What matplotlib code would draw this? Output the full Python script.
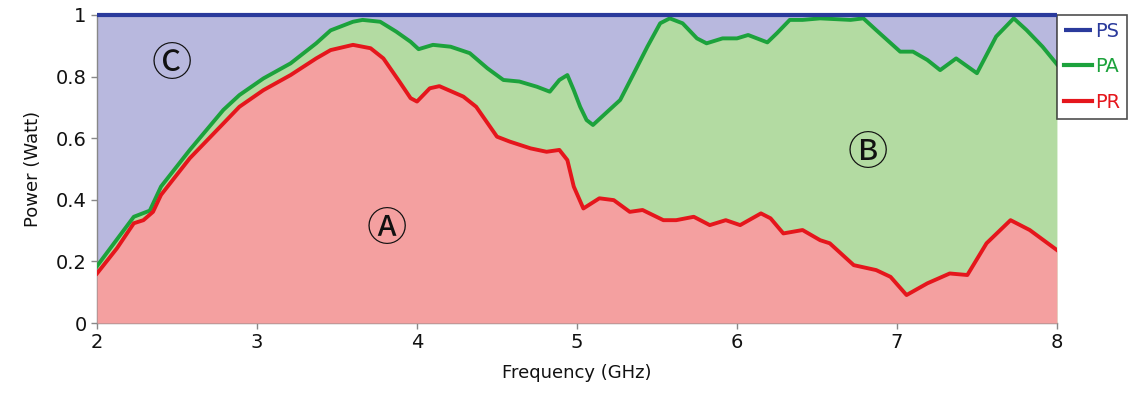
import matplotlib
matplotlib.use("Agg")
import matplotlib.pyplot as plt
from matplotlib.ticker import FixedLocator

# Frequency (GHz) and reflected power PR (W)
pr_freq = [2.00, 2.125, 2.23, 2.29, 2.35, 2.40, 2.58, 2.79, 2.89, 3.04, 3.21, 3.37,
           3.46, 3.60, 3.71, 3.79, 3.89, 3.96, 4.00, 4.08, 4.14, 4.29, 4.37, 4.50,
           4.58, 4.71, 4.81, 4.89, 4.94, 4.98, 5.04, 5.14, 5.23, 5.33, 5.41, 5.54,
           5.62, 5.73, 5.83, 5.93, 6.02, 6.15, 6.21, 6.29, 6.41, 6.52, 6.58, 6.73,
           6.87, 6.96, 7.06, 7.19, 7.33, 7.44, 7.56, 7.71, 7.83, 8.00]
pr_power = [0.161, 0.243, 0.324, 0.334, 0.361, 0.416, 0.535, 0.648, 0.702, 0.756, 0.805, 0.859,
            0.886, 0.903, 0.892, 0.859, 0.784, 0.730, 0.719, 0.762, 0.769, 0.735, 0.702, 0.605,
            0.589, 0.567, 0.556, 0.562, 0.529, 0.443, 0.372, 0.405, 0.399, 0.361, 0.367, 0.334,
            0.334, 0.345, 0.318, 0.334, 0.318, 0.356, 0.340, 0.291, 0.302, 0.269, 0.259, 0.188,
            0.172, 0.150, 0.091, 0.129, 0.161, 0.156, 0.259, 0.334, 0.302, 0.237]

# Frequency (GHz) and absorbed power PA (W)
pa_freq = [2.00, 2.23, 2.33, 2.40, 2.58, 2.79, 2.89, 3.04, 3.21, 3.37, 3.46, 3.60,
           3.66, 3.77, 3.87, 3.96, 4.01, 4.10, 4.21, 4.33, 4.44, 4.54, 4.64, 4.75,
           4.83, 4.89, 4.94, 4.98, 5.02, 5.06, 5.10, 5.19, 5.27, 5.35, 5.44, 5.52,
           5.58, 5.66, 5.75, 5.81, 5.91, 6.00, 6.07, 6.19, 6.25, 6.33, 6.41, 6.52,
           6.71, 6.79, 6.87, 7.02, 7.10, 7.19, 7.27, 7.37, 7.50, 7.62, 7.73, 7.81,
           7.91, 8.00]
pa_power = [0.185, 0.345, 0.365, 0.443, 0.562, 0.692, 0.740, 0.794, 0.843, 0.908, 0.950, 0.978,
            0.984, 0.978, 0.946, 0.913, 0.889, 0.903, 0.897, 0.876, 0.827, 0.789, 0.784, 0.767,
            0.751, 0.789, 0.805, 0.756, 0.702, 0.659, 0.643, 0.686, 0.724, 0.805, 0.897, 0.973,
            0.989, 0.973, 0.924, 0.908, 0.924, 0.924, 0.935, 0.911, 0.941, 0.984, 0.984, 0.989,
            0.984, 0.989, 0.951, 0.881, 0.881, 0.854, 0.821, 0.859, 0.811, 0.930, 0.989, 0.951,
            0.897, 0.840]

# Source power PS (W)
ps_freq = [2.0, 8.0]
ps_power = [1.0, 1.0]

x_ticks = [2, 3, 4, 5, 6, 7, 8]
y_ticks = [0, 0.2, 0.4, 0.6, 0.8, 1.0]
y_tick_labels = ["0", "0.2", "0.4", "0.6", "0.8", "1"]

region_labels = ["\u24b6", "\u24b7", "\u24b8"]
region_pos = [(3.81, 0.305), (6.82, 0.55), (2.47, 0.84)]

c_ps, c_pa, c_pr = "#2a3a9c", "#1ca23c", "#e5161c"
f_ps, f_pa, f_pr = "#b8b8de", "#b3dba2", "#f4a0a0"

fig = plt.figure(figsize=(11.28, 3.94), dpi=100)
ax = fig.add_axes([0.086, 0.180, 0.851, 0.782])

ax.fill_between(ps_freq, 0, ps_power, color=f_ps, lw=0, zorder=1)
ax.fill_between(pa_freq, 0, pa_power, color=f_pa, lw=0, zorder=2)
ax.fill_between(pr_freq, 0, pr_power, color=f_pr, lw=0, zorder=3)

ax.plot(ps_freq, ps_power, color=c_ps, lw=3.0, label="PS", zorder=6, clip_on=False,
        solid_capstyle="butt")
ax.plot(pa_freq, pa_power, color=c_pa, lw=2.8, label="PA", zorder=5,
        solid_joinstyle="round")
ax.plot(pr_freq, pr_power, color=c_pr, lw=2.8, label="PR", zorder=5,
        solid_joinstyle="round")

for lab, (x, y) in zip(region_labels, region_pos):
    ax.text(x, y, lab, fontsize=29, ha="center", va="center", color="#111111", zorder=7,
            family=["Noto Sans CJK JP", "DejaVu Sans"])

ax.set_xlim(2, 8)
ax.set_ylim(0, 1)
ax.xaxis.set_major_locator(FixedLocator(x_ticks))
ax.set_yticks(y_ticks)
ax.set_yticklabels(y_tick_labels)

for s in ["top", "right"]:
    ax.spines[s].set_visible(False)
for s in ["left", "bottom"]:
    ax.spines[s].set_color("#888888")
    ax.spines[s].set_linewidth(1.0)
ax.tick_params(axis="both", direction="out", length=4, width=1, color="#888888",
               labelsize=14, labelcolor="#111111")

ax.set_xlabel("Frequency (GHz)", fontsize=13, color="#111111", labelpad=8)
ax.set_ylabel("Power (Watt)", fontsize=13, color="#111111", labelpad=10)

leg = ax.legend(loc="upper left", bbox_to_anchor=(1.0, 1.0), borderaxespad=0.0,
                frameon=True, fancybox=False, fontsize=14, handlelength=1.45,
                handletextpad=0.15, labelspacing=0.85, borderpad=0.35)
leg.get_frame().set_edgecolor("#222222")
leg.get_frame().set_linewidth(1.2)
for text, col in zip(leg.get_texts(), [c_ps, c_pa, c_pr]):
    text.set_color(col)
for line in leg.get_lines():
    line.set_linewidth(3.0)

fig.savefig("out.png", dpi=100)
